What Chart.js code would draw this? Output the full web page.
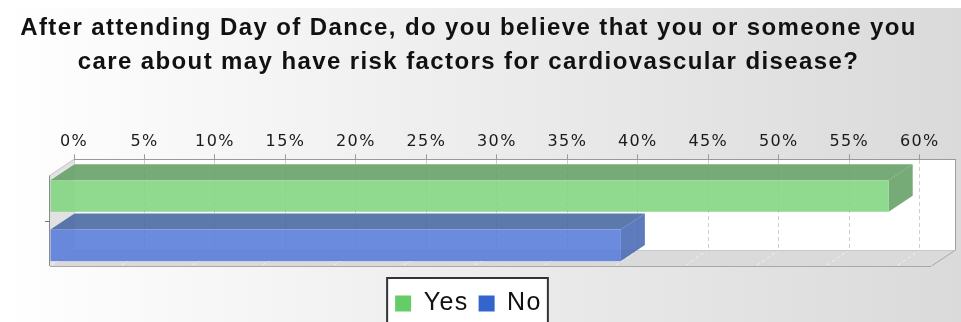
<!DOCTYPE html>
<html>
<head>
<meta charset="utf-8">
<script src="https://cdn.jsdelivr.net/npm/chart.js@4.4.1/dist/chart.umd.min.js"></script>
<style>
  html, body { margin: 0; padding: 0; background: #fff; }
  canvas { display: block; }
</style>
</head>
<body>
<canvas id="chart" width="961" height="322"></canvas>
<script>
const titleLines = [
  "After attending Day of Dance, do you believe that you or someone you",
  "care about may have risk factors for cardiovascular disease?"
];
const categories = [""];
const seriesNames = ["Yes", "No"];
const yesValues = [59.5];
const noValues = [40.5];
const axisMax = 62.5;
const tickStep = 5;
const lastTick = 60;

// depth of the extruded bars / walls
const DX = 24;
const DY = 16;

const legendColors = ["#66cc66", "#3366cc"];
const barFaces = [
  { front: "rgba(127,213,127,0.88)", top: "rgba(99,158,99,0.88)", side: "rgba(99,158,99,0.88)" },
  { front: "rgba(85,123,217,0.88)", top: "rgba(69,102,161,0.88)", side: "rgba(72,106,180,0.88)" }
];

function poly(ctx, pts, fill, stroke) {
  ctx.beginPath();
  ctx.moveTo(pts[0][0], pts[0][1]);
  for (let i = 1; i < pts.length; i++) ctx.lineTo(pts[i][0], pts[i][1]);
  ctx.closePath();
  if (fill) { ctx.fillStyle = fill; ctx.fill(); }
  if (stroke) { ctx.strokeStyle = stroke; ctx.stroke(); }
}

function line(ctx, x1, y1, x2, y2, color, dash) {
  ctx.beginPath();
  ctx.setLineDash(dash || []);
  ctx.strokeStyle = color;
  ctx.moveTo(x1, y1);
  ctx.lineTo(x2, y2);
  ctx.stroke();
  ctx.setLineDash([]);
}

// background, walls, floor and the legend frame; bars are drawn as boxes later
const scene3d = {
  id: "scene3d",
  beforeUpdate(chart) {
    // the old renderer spaced its glyphs out a little
    chart.ctx.letterSpacing = "1.4px";
  },
  beforeDraw(chart) {
    const { ctx, width, height, chartArea: a } = chart;
    ctx.save();
    ctx.fillStyle = "#fff";
    ctx.fillRect(0, 0, width, height);
    const g = ctx.createLinearGradient(0, 0, width, 0);
    g.addColorStop(0, "#ffffff");
    g.addColorStop(1, "#dadada");
    ctx.fillStyle = g;
    ctx.fillRect(0, 8, width, height - 8);

    ctx.lineWidth = 1;
    // back wall
    ctx.fillStyle = "#fff";
    ctx.fillRect(a.left, a.top, a.right - a.left, a.bottom - a.top);
    line(ctx, a.right + 0.5, a.top, a.right + 0.5, a.bottom, "#a0a0a0");

    // left wall
    poly(ctx, [[a.left, a.top], [a.left, a.bottom], [a.left - DX, a.bottom + DY], [a.left - DX, a.top + DY]], "#e2e2e2");
    line(ctx, a.left - DX, a.top + DY, a.left, a.top, "#c4c4c4");

    // floor
    poly(ctx, [[a.left, a.bottom], [a.right, a.bottom], [a.right - DX, a.bottom + DY], [a.left - DX, a.bottom + DY]], "#dadada");
    const xs = chart.scales.x;
    xs.ticks.forEach(t => {
      const px = Math.round(xs.getPixelForValue(t.value)) + 0.5;
      line(ctx, px, a.bottom, px - DX, a.bottom + DY, "#f2f2f2", [3, 3]);
    });
    line(ctx, a.left, a.bottom + 0.5, a.right, a.bottom + 0.5, "#c8c8c8");
    line(ctx, a.left - DX, a.bottom + DY + 0.5, a.right - DX, a.bottom + DY + 0.5, "#a8a8a8");
    line(ctx, a.right + 0.5, a.bottom, a.right - DX + 0.5, a.bottom + DY, "#a8a8a8");

    // legend frame
    const hb = chart.legend.legendHitBoxes;
    if (hb && hb.length) {
      const l = hb[0].left - 8;
      const r = hb[hb.length - 1].left + hb[hb.length - 1].width + 6;
      const t = hb[0].top - 13;
      ctx.fillStyle = "#ffffff";
      ctx.fillRect(l, t, r - l, height - t + 10);
      ctx.lineWidth = 2;
      ctx.strokeStyle = "#333";
      ctx.strokeRect(l, t, r - l, height - t + 10);
    }
    ctx.restore();
  },
  beforeDatasetDraw() {
    return false;
  },
  afterDatasetsDraw(chart) {
    const { ctx, chartArea: a } = chart;
    ctx.save();
    chart.data.datasets.forEach((ds, i) => {
      const faces = barFaces[i];
      chart.getDatasetMeta(i).data.forEach(bar => {
        const { x, y, base, height } = bar.getProps(["x", "y", "base", "height"], true);
        const top = y - height / 2;
        const bot = y + height / 2;
        poly(ctx, [[base, top], [x, top], [x - DX, top + DY], [base - DX, top + DY]], faces.top);
        poly(ctx, [[x, top], [x, bot], [x - DX, bot + DY], [x - DX, top + DY]], faces.side);
        ctx.fillStyle = faces.front;
        ctx.fillRect(base - DX, top + DY, x - base, height);
      });
    });
    // front edge of the left wall and the category tick
    ctx.lineWidth = 1;
    line(ctx, a.left - DX - 0.5, a.top + DY, a.left - DX - 0.5, a.bottom + DY, "#8a8a8a");
    const cy = Math.round(chart.scales.y.getPixelForValue(0) + DY) + 0.5;
    line(ctx, a.left - DX - 5, cy, a.left - DX, cy, "#777");
    ctx.restore();
  }
};

new Chart(document.getElementById("chart"), {
  type: "bar",
  data: {
    labels: categories,
    datasets: [
      { label: seriesNames[0], data: yesValues, backgroundColor: legendColors[0], borderWidth: 0 },
      { label: seriesNames[1], data: noValues, backgroundColor: legendColors[1], borderWidth: 0 }
    ]
  },
  options: {
    indexAxis: "y",
    responsive: false,
    animation: false,
    categoryPercentage: 1.087,
    barPercentage: 0.64,
    layout: { padding: { left: -18, right: 6, top: 0, bottom: -4 } },
    scales: {
      x: {
        position: "top",
        min: 0,
        max: axisMax,
        afterBuildTicks: s => { s.ticks = s.ticks.filter(t => t.value <= lastTick); },
        ticks: {
          stepSize: tickStep,
          includeBounds: false,
          autoSkip: false,
          maxRotation: 0,
          padding: 3,
          color: "#1a1a1a",
          font: { family: "DejaVu Sans", size: 16 },
          callback: v => v + "%"
        },
        grid: {
          color: "#cfcfcf",
          tickColor: "#999",
          tickBorderDash: [],
          tickLength: 5
        },
        border: { display: true, color: "#999", width: 1, dash: [4, 3] }
      },
      y: {
        display: true,
        ticks: { display: false },
        grid: { display: false },
        border: { display: false },
        afterFit: s => { s.width = 92; }
      }
    },
    plugins: {
      title: {
        display: true,
        text: titleLines,
        color: "#111",
        font: { family: "Liberation Sans, Arial", size: 24, weight: "bold", lineHeight: 1.44 },
        padding: { top: 11, bottom: 49 }
      },
      legend: {
        position: "bottom",
        title: { display: true, text: "", padding: 0, font: { size: 31, lineHeight: 1 } },
        labels: {
          boxWidth: 16,
          boxHeight: 16,
          padding: 10,
          color: "#111",
          font: { family: "Liberation Sans, Arial", size: 25 }
        }
      },
      tooltip: { enabled: false }
    }
  },
  plugins: [scene3d]
});
</script>
</body>
</html>
